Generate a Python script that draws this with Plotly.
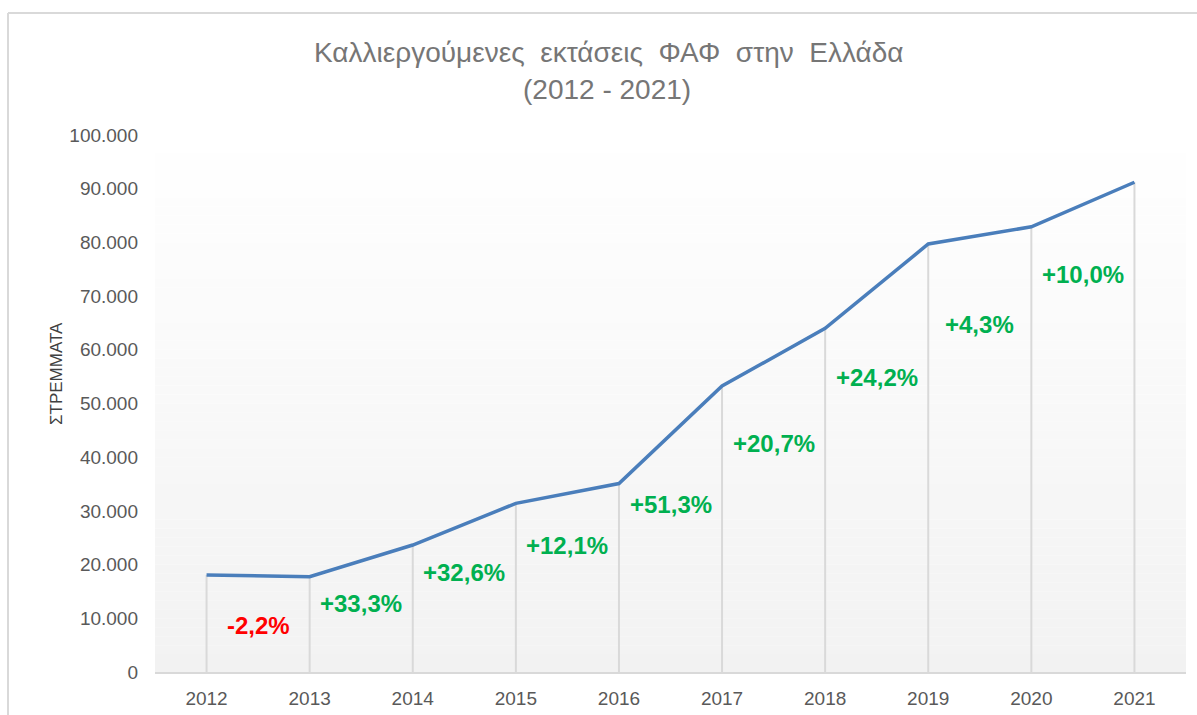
import plotly.graph_objects as go

# ---- data ----
years = ["2012", "2013", "2014", "2015", "2016", "2017", "2018", "2019", "2020", "2021"]
stremmata = [18060, 17750, 23650, 31400, 35100, 53260, 64000, 79700, 82900, 91200]
change_labels = ["-2,2%", "+33,3%", "+32,6%", "+12,1%", "+51,3%", "+20,7%", "+24,2%", "+4,3%", "+10,0%"]
label_heights = [8750, 12800, 18500, 23650, 31100, 42600, 54900, 64800, 74100]

FONT = "Liberation Sans, Arial, sans-serif"
L, R, T, B = 155, 11, 135, 43
W, H = 1197, 715
PW, PH = W - L - R, H - T - B

fig = go.Figure()

# drop lines from each point to the axis
dx, dy = [], []
for c, v in zip(years, stremmata):
    dx += [c, c, None]
    dy += [v, 0, None]
fig.add_trace(go.Scatter(x=dx, y=dy, mode="lines",
                         line=dict(color="#D9D9D9", width=2),
                         hoverinfo="skip", showlegend=False))

# main line
fig.add_trace(go.Scatter(x=years, y=stremmata, mode="lines",
                         line=dict(color="#4A7EBB", width=3.5),
                         showlegend=False))

shapes = []
# vertical gradient background of plot area
N = 60
for i in range(N):
    t = (i + 0.5) / N
    c = int(round(0xF2 + (0xFF - 0xF2) * t))
    shapes.append(dict(type="rect", xref="x domain", yref="y domain",
                       x0=0, x1=1, y0=i / N, y1=(i + 1) / N,
                       fillcolor=f"rgb({c},{c},{c})", line=dict(width=0),
                       layer="below"))

# outer chart border (top and left visible)
px = lambda p: (p - L) / PW
py = lambda p: (H - B - p) / PH
shapes.append(dict(type="line", xref="paper", yref="paper",
                   x0=px(8), x1=px(1200), y0=py(13), y1=py(13),
                   line=dict(color="#D9D9D9", width=2)))
shapes.append(dict(type="line", xref="paper", yref="paper",
                   x0=px(8), x1=px(8), y0=py(13), y1=py(720),
                   line=dict(color="#D9D9D9", width=2)))

annotations = []
for i, (txt, hy) in enumerate(zip(change_labels, label_heights)):
    color = "#FF0000" if txt.startswith("-") else "#00B050"
    annotations.append(dict(x=i + 0.5, y=hy, xref="x", yref="y", text=txt,
                            showarrow=False, xanchor="center", yanchor="middle",
                            font=dict(family=FONT, size=24, color=color, weight="bold")))

# title (two lines)
annotations.append(dict(x=px(609), y=py(52), xref="paper", yref="paper",
                        text="Καλλιεργούμενες  εκτάσεις  ΦΑΦ  στην  Ελλάδα",
                        showarrow=False, xanchor="center", yanchor="middle",
                        font=dict(family=FONT, size=28, color="#767676")))
annotations.append(dict(x=px(607), y=py(90), xref="paper", yref="paper",
                        text="(2012 - 2021)",
                        showarrow=False, xanchor="center", yanchor="middle",
                        font=dict(family=FONT, size=28, color="#767676")))
# y axis title
annotations.append(dict(x=px(56), y=py(374), xref="paper", yref="paper",
                        text="ΣΤΡΕΜΜΑΤΑ", textangle=-90,
                        showarrow=False, xanchor="center", yanchor="middle",
                        font=dict(family=FONT, size=17, color="#404040")))

fig.update_layout(
    width=W, height=H,
    margin=dict(l=L, r=R, t=T, b=B, autoexpand=False),
    paper_bgcolor="white", plot_bgcolor="white",
    separators=",.",
    shapes=shapes, annotations=annotations,
    showlegend=False,
    xaxis=dict(type="category", range=[-0.5, 9.5], showgrid=False, zeroline=False,
               showline=True, linecolor="#D9D9D9", linewidth=2, ticks="",
               automargin=False,
               tickfont=dict(family=FONT, size=19, color="#595959"),
               ticklabelstandoff=8),
    yaxis=dict(range=[0, 100000], dtick=10000, tickformat=",d", showgrid=False,
               zeroline=False, showline=False, ticks="", automargin=False,
               tickfont=dict(family=FONT, size=19, color="#595959"),
               ticklabelstandoff=16),
)

fig.write_html("out.html")
